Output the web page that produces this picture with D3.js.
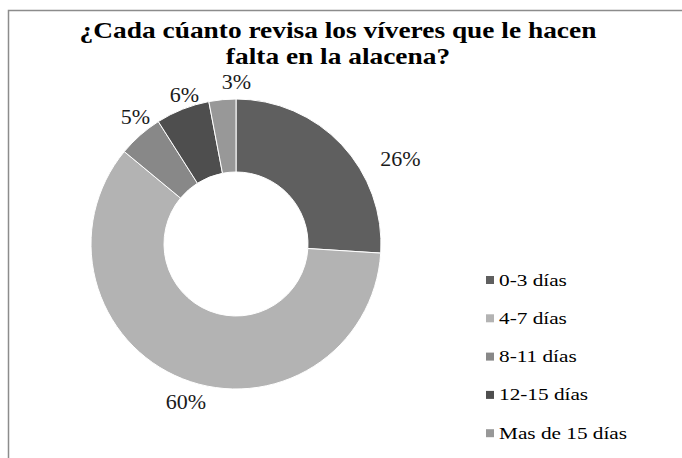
<!DOCTYPE html>
<html>
<head>
<meta charset="utf-8">
<script src="https://cdn.jsdelivr.net/npm/d3@7"></script>
<style>
  body { margin: 0; background: #fff; }
  svg { display: block; }
  text { font-family: 'Liberation Serif', 'Times New Roman', serif; }
</style>
</head>
<body>
<script>
const categories = ['0-3 días', '4-7 días', '8-11 días', '12-15 días', 'Mas de 15 días']
const values = [26, 60, 5, 6, 3]
const colors = ['#5f5f5f', '#b3b3b3', '#888888', '#4e4e4e', '#989898']
const titleLines = ['¿Cada cúanto revisa los víveres que le hacen', 'falta en la alacena?']

const width = 682, height = 458
const cx = 236, cy = 244
const outerR = 145, innerR = 72
// "best fit" label placement: angular nudge (deg) and distance from centre
const labelNudge = [16, -4, 3, 2.5, 5.5]
const labelDist = [185, 166, 162, 158, 162]

// the source picture renders text a bit wide; stretch to match
function stretch(sel, k) {
    sel.each(function () {
        const w = this.getComputedTextLength()
        d3.select(this).attr('textLength', w * k).attr('lengthAdjust', 'spacingAndGlyphs')
    })
}

const svg = d3.select('body').append('svg')
    .attr('width', width)
    .attr('height', height)
    .attr('xmlns', 'http://www.w3.org/2000/svg')

// chart frame (runs off the right/bottom edge)
svg.append('rect')
    .attr('x', 8.5).attr('y', 10.5)
    .attr('width', 700).attr('height', 470)
    .attr('fill', '#fff')
    .attr('stroke', '#8c8c8c')
    .attr('stroke-width', 1.5)

svg.append('g').selectAll('text')
    .data(titleLines)
    .enter()
    .append('text')
    .attr('x', 338)
    .attr('y', (d, i) => 38 + i * 26)
    .attr('text-anchor', 'middle')
    .style('font-weight', 'bold')
    .style('font-size', '23px')
    .style('fill', '#000')
    .text(d => d)
    .call(stretch, 1.19)

const data = categories.map((c, i) => ({ cat: c, value: values[i], color: colors[i], i: i }))

const pie = d3.pie().sort(null).value(d => d.value)
const arc = d3.arc().innerRadius(innerR).outerRadius(outerR)
const arcs = pie(data)

const g = svg.append('g').attr('transform', `translate(${cx},${cy})`)

g.selectAll('path')
    .data(arcs)
    .enter()
    .append('path')
    .attr('d', arc)
    .attr('fill', d => d.data.color)
    .attr('stroke', '#fff')
    .attr('stroke-width', 1)

function labelPos(d) {
    const a = (d.startAngle + d.endAngle) / 2 + labelNudge[d.index] * Math.PI / 180
    const r = labelDist[d.index]
    return [Math.sin(a) * r, -Math.cos(a) * r]
}

g.selectAll('text.lbl')
    .data(arcs)
    .enter()
    .append('text')
    .attr('class', 'lbl')
    .attr('x', d => labelPos(d)[0])
    .attr('y', d => labelPos(d)[1])
    .attr('text-anchor', 'middle')
    .attr('dominant-baseline', 'central')
    .style('font-size', '20px')
    .style('fill', '#1a1a1a')
    .text(d => d.data.value + '%')
    .call(stretch, 1.1)

const legend = svg.append('g').attr('transform', 'translate(486,280)')
const row = legend.selectAll('g')
    .data(data)
    .enter()
    .append('g')
    .attr('transform', (d, i) => `translate(0,${i * 38.3})`)

row.append('rect')
    .attr('x', 0).attr('y', -4)
    .attr('width', 8).attr('height', 8)
    .attr('fill', d => d.color)

row.append('text')
    .attr('x', 13)
    .attr('y', 0)
    .attr('dominant-baseline', 'central')
    .style('font-size', '17px')
    .style('fill', '#000')
    .text(d => d.cat)
    .call(stretch, 1.25)
</script>
</body>
</html>
